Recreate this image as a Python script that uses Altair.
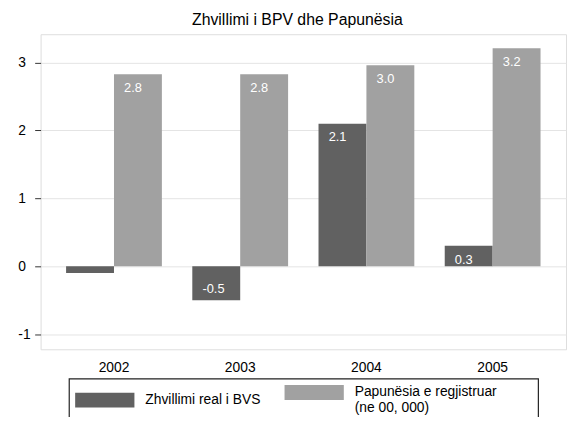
import altair as alt
import pandas as pd

years = ["2002", "2003", "2004", "2005"]
series = ["Zhvillimi real i BVS", "Papunësia e regjistruar|(ne 00, 000)"]
gdp_growth = [-0.1, -0.5, 2.1, 0.3]
unemployment = [2.83, 2.83, 2.96, 3.21]
y_ticks = [-1, 0, 1, 2, 3]
colors = ["#616161", "#a1a1a1"]
title_text = "Zhvillimi i BPV dhe Papunësia"

rows = []
for i, yr in enumerate(years):
    rows.append({"year": yr, "series": series[0], "value": gdp_growth[i]})
    rows.append({"year": yr, "series": series[1], "value": unemployment[i]})
df = pd.DataFrame(rows)

FONT = "Liberation Sans"
W, H = 532, 319

x_enc = alt.X(
    "year:N", sort=years,
    scale=alt.Scale(paddingInner=0.241, paddingOuter=0.202),
    axis=alt.Axis(title=None, ticks=False, domain=False, labelAngle=0,
                  labelPadding=11, labelFontSize=14, labelFont=FONT,
                  labelColor="black", grid=False),
)
xo = alt.XOffset("series:N", sort=series, scale=alt.Scale(domain=series))
y_enc = alt.Y(
    "value:Q",
    scale=alt.Scale(domain=[-1.224, 3.418], nice=False, zero=False),
    axis=alt.Axis(title=None, values=y_ticks, tickSize=6, tickColor="#333",
                  labelAlign="left", labelPadding=17, labelFontSize=14,
                  labelFont=FONT, labelColor="black", domain=False,
                  labelExpr="replace(datum.label, '\u2212', '-')",
                  grid=True, gridColor="#e4e4e4", gridWidth=1),
)

base = alt.Chart(df).encode(x=x_enc, xOffset=xo, y=y_enc)

bars = base.mark_bar().encode(
    color=alt.Color(
        "series:N",
        scale=alt.Scale(domain=series, range=colors),
        legend=alt.Legend(
            title=None, orient="none", legendX=35, legendY=355,
            direction="horizontal", columns=2,
            symbolType="M-1,-1H7V1H-1Z", symbolSize=225,
            symbolStrokeWidth=0, symbolOpacity=1,
            labelOffset=56, columnPadding=24, labelFontSize=14,
            labelFont=FONT, labelColor="black",
            labelExpr="split(datum.label, '|')", labelLimit=400,
            padding=0,
        ),
    )
)

label_calc = "replace(format(datum.value, '.1f'), '\u2212', '-')"

pos_labels = base.transform_filter("datum.value >= 0.2").transform_calculate(
    lab=label_calc
).mark_text(
    align="left", baseline="middle", dx=-14, dy=14, color="white",
    fontSize=13, font=FONT,
).encode(text="lab:N")

neg_labels = base.transform_filter("datum.value <= -0.2").transform_calculate(
    lab=label_calc
).mark_text(
    align="left", baseline="middle", dx=-14, dy=-11, color="white",
    fontSize=13, font=FONT,
).encode(text="lab:N")

frame = alt.Chart(pd.DataFrame({"k": [0]})).mark_rect(
    fill="transparent", stroke="#222", strokeWidth=1.2
).encode(
    x=alt.value(29), x2=alt.value(504), y=alt.value(349), y2=alt.value(470)
)

chart = alt.layer(bars, pos_labels, neg_labels, frame).properties(
    width=W, height=H,
    title=alt.Title(title_text, fontSize=16, font=FONT, fontWeight="normal",
                    color="black", offset=6, anchor="middle", dx=-6),
    autosize=alt.AutoSizeParams(type="none"),
    padding={"left": 33, "top": 24, "right": 2, "bottom": 66},
).configure_view(stroke="#222", strokeWidth=1.5).configure(
    style={"guide-label": {"lineHeight": 16}}
)

chart.save("out.html", embed_options={"renderer": "svg", "actions": False})
